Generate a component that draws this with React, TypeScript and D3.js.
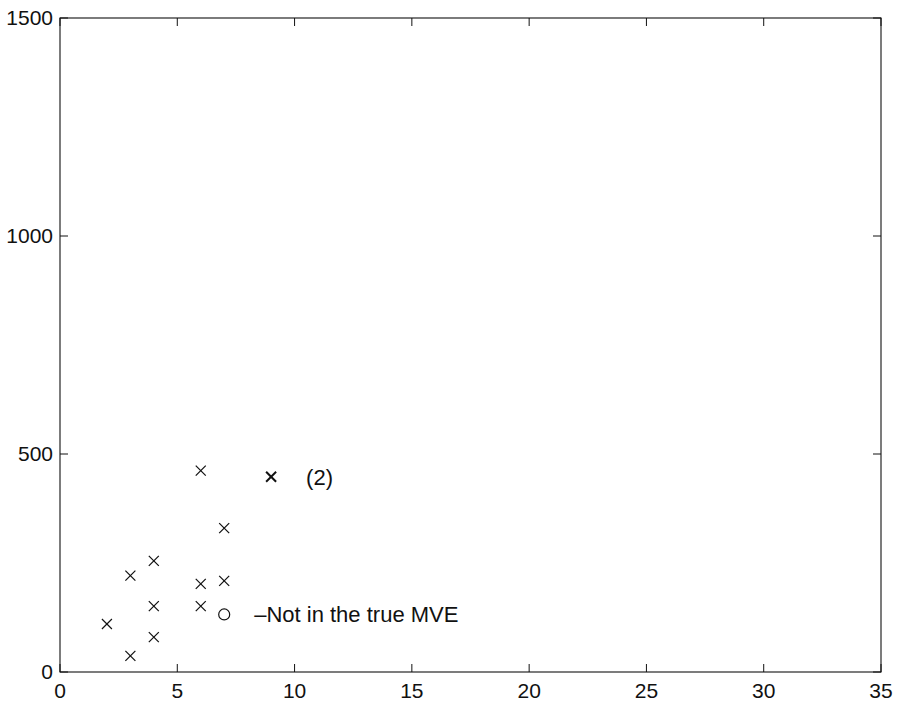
import React from "react";
import * as d3 from "d3";

const xTicks = [0, 5, 10, 15, 20, 25, 30, 35];
const yTicks = [0, 500, 1000, 1500];
const crossX = [2, 3, 3, 4, 4, 4, 6, 6, 6, 7, 7, 9];
const crossY = [110, 37, 221, 255, 151, 80, 462, 202, 151, 330, 209, 448];
const crossCount = [1, 1, 1, 1, 1, 1, 1, 1, 1, 1, 1, 2];
const circleX = [7];
const circleY = [132];
const labels = [
  { text: "(2)", x: 9, y: 448, dx: 35 },
  { text: "\u2013Not in the true MVE", x: 7, y: 132, dx: 30 },
];

const W = 897;
const H = 704;
const M = { left: 60, right: 16, top: 18, bottom: 32 };

export default function App() {
  const x = d3.scaleLinear().domain([0, 35]).range([M.left, W - M.right]);
  const y = d3.scaleLinear().domain([0, 1500]).range([H - M.bottom, M.top]);
  const [x0, x1] = x.range();
  const [y0, y1] = y.range();
  const tl = 8;
  const font = "'Liberation Sans', Arial, Helvetica, sans-serif";
  const col = "#111";
  const s = 5;
  return (
    <svg
      width={W}
      height={H}
      style={{ position: "absolute", left: 0, top: 0, background: "#fff" }}
      fontFamily={font}
    >
      <rect x={0} y={0} width={W} height={H} fill="#fff" />
      <rect x={x0} y={y1} width={x1 - x0} height={y0 - y1} fill="none" stroke={col} strokeWidth={1.1} />
      {xTicks.map((t) => (
        <g key={"x" + t}>
          <line x1={x(t)} x2={x(t)} y1={y0} y2={y0 - tl} stroke={col} />
          <line x1={x(t)} x2={x(t)} y1={y1} y2={y1 + tl} stroke={col} />
          <text x={x(t)} y={y0 + 26} textAnchor="middle" fontSize={21} fill={col}>
            {t}
          </text>
        </g>
      ))}
      {yTicks.map((t) => (
        <g key={"y" + t}>
          <line x1={x0} x2={x0 + tl} y1={y(t)} y2={y(t)} stroke={col} />
          <line x1={x1} x2={x1 - tl} y1={y(t)} y2={y(t)} stroke={col} />
          <text x={x0 - 7} y={y(t) + 7} textAnchor="end" fontSize={21} fill={col}>
            {t}
          </text>
        </g>
      ))}
      {crossX.map((v, i) => {
        const cx = x(v);
        const cy = y(crossY[i]);
        const sw = crossCount[i] > 1 ? 2 : 1.2;
        return (
          <g key={"c" + i} stroke={col} strokeWidth={sw}>
            <line x1={cx - s} y1={cy - s} x2={cx + s} y2={cy + s} />
            <line x1={cx - s} y1={cy + s} x2={cx + s} y2={cy - s} />
          </g>
        );
      })}
      {circleX.map((v, i) => (
        <circle key={"o" + i} cx={x(v)} cy={y(circleY[i])} r={5.5} fill="none" stroke={col} strokeWidth={1.2} />
      ))}
      {labels.map((l, i) => (
        <text key={"l" + i} x={x(l.x) + l.dx} y={y(l.y) + 8} fontSize={22} fill={col}>
          {l.text}
        </text>
      ))}
    </svg>
  );
}
